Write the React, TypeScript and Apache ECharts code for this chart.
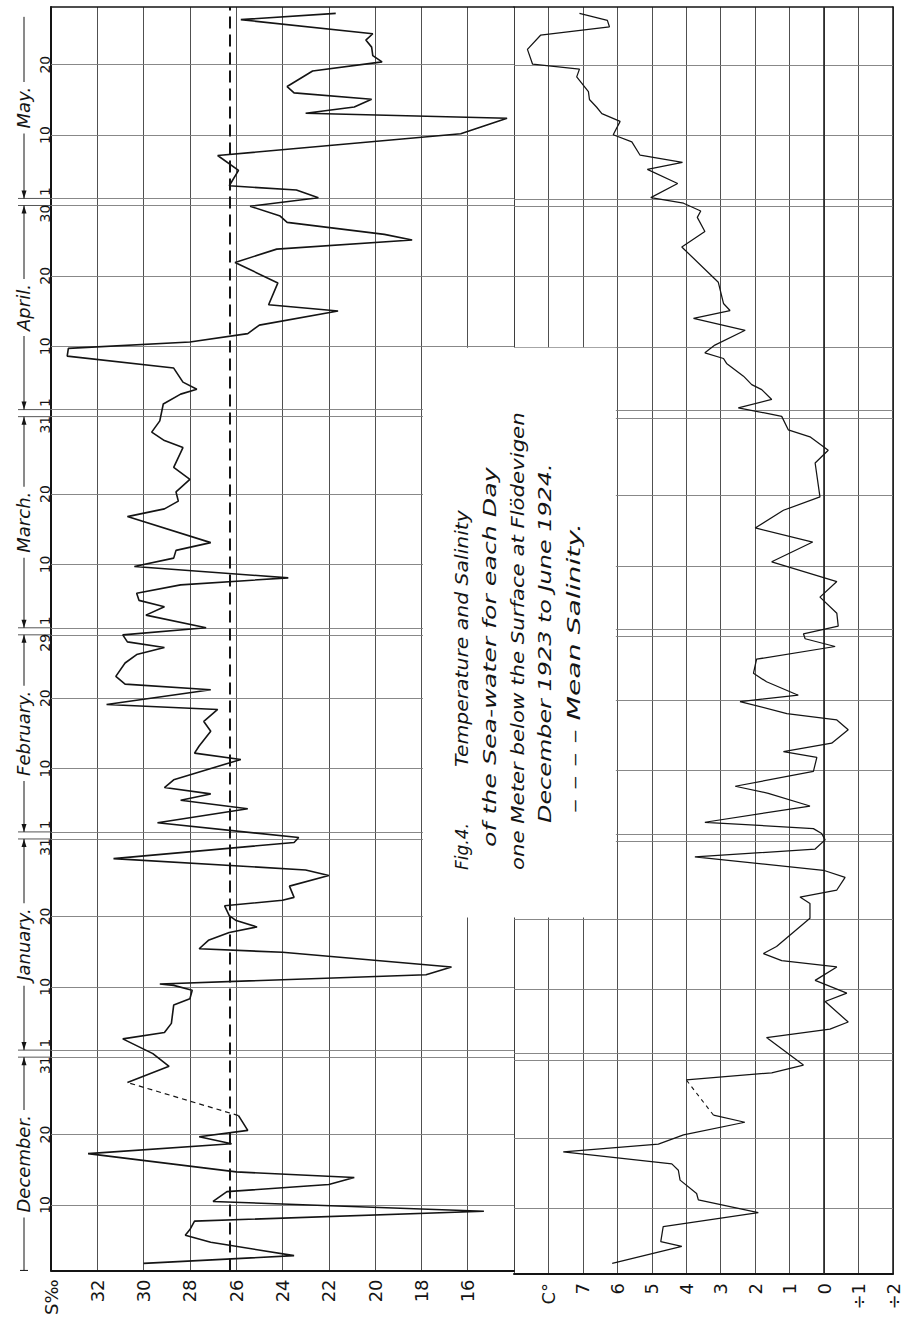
import React, { useEffect, useRef } from "react";
import * as echarts from "echarts";

// Day index: 1 = 1 Dec 1923, 32 = 1 Jan, 63 = 1 Feb, 92 = 1 Mar, 123 = 1 Apr, 153 = 1 May 1924
const salDays = [
  1.7, 2.8, 4.7, 5.7, 6.5, 7.7, 9.1, 10.5, 11.9, 12.9, 13.9, 14.7, 17.3, 18.7, 19.7, 20.6, 22.7,
  27.4, 29.7, 31.5, 33.6, 34.5, 35.8, 38.4, 39.3, 40.5, 41.2, 41.4, 42.7, 43.8, 45.9, 46.4, 47.6,
  48.7, 49.5, 50.4, 51.1, 52.5, 53.3, 53.7, 55.3, 56.8, 57.6, 59.2, 61.5, 62.2, 64.3, 66.3, 67.5,
  68.4, 69.3, 70.4, 73.3, 74.2, 75.2, 77.3, 78.7, 80.4, 81.1, 83.2, 84.0, 85.1, 87.0, 88.2, 89.2,
  90.0, 91.0, 92.0, 93.8, 95.0, 95.9, 96.9, 98.1, 99.1, 100.7, 101.9, 103.0, 104.1, 107.8, 108.9,
  110.0, 111.3, 113.1, 114.8, 117.6, 118.6, 119.8, 121.4, 123.8, 125.2, 125.9, 126.9, 128.9, 130.6,
  131.7, 132.6, 133.8, 135.0, 137.0, 137.9, 141.0, 143.9, 145.8, 147.1, 147.9, 149.6, 150.5, 151.9,
  153.1, 154.2, 154.8, 157.0, 159.1, 162.2, 164.4, 165.1, 166.0, 167.1, 168.0, 168.9, 171.1, 172.4,
  173.3, 174.5, 175.5, 176.4, 178.4, 179.3,
];
const salVals = [
  30.0, 23.5, 27.1, 28.2, 28.0, 27.8, 15.3, 27.0, 26.4, 22.0, 20.9, 26.0, 32.4, 26.2, 27.6, 25.5, 25.9,
  30.7, 28.9, 29.6, 30.9, 29.1, 28.8, 28.7, 28.0, 27.9, 28.7, 29.3, 17.8, 16.7, 24.0, 27.6, 27.2,
  26.3, 25.1, 26.0, 26.3, 26.5, 24.0, 23.5, 23.7, 22.0, 23.0, 31.3, 23.5, 23.3, 29.4, 25.5, 28.4,
  27.1, 29.1, 28.7, 25.8, 27.8, 27.6, 27.1, 27.4, 26.8, 31.6, 27.1, 30.8, 31.2, 30.8, 30.3, 29.1,
  30.7, 30.9, 27.3, 29.9, 29.1, 30.2, 30.3, 28.4, 23.75, 30.4, 28.7, 28.6, 27.1, 30.7, 29.1,
  28.5, 28.6, 28.0, 28.7, 28.3, 29.1, 29.65, 29.3, 29.15, 28.4, 27.7, 28.3, 28.7, 33.3,
  33.25, 28.0, 25.5, 25.0, 21.6, 24.6, 24.2, 26.05, 24.25, 18.4, 19.6, 23.8, 24.1, 25.4,
  22.45, 23.4, 26.3, 25.9, 26.8, 16.3, 14.3, 23.0, 20.9, 20.15, 23.5, 23.8, 22.7, 19.7,
  20.1, 20.15, 20.4, 20.1, 25.8, 21.7,
];
const salGapAfter = 16; // days without observations follow this point (drawn dashed)

const tempDays = [
  2.2, 4.6, 5.3, 7.4, 9.4, 11.2, 12.1, 14.0, 15.4, 16.3, 18.0, 19.1, 20.4, 22.2, 23.2,
  28.2, 29.2, 30.3, 34.2, 35.4, 36.4, 39.3, 40.5, 42.3, 44.2, 45.1, 46.1, 47.1, 51.1, 53.2, 54.1,
  55.1, 56.9, 57.9, 59.8, 60.9, 62.2, 63.1, 63.8, 64.7, 67.0, 68.8, 69.8, 71.9, 73.9, 74.7, 75.9,
  77.8, 79.2, 80.1, 81.8, 82.7, 84.6, 85.8, 87.8, 89.6, 90.7, 91.4, 92.5, 94.3, 96.6, 98.8, 101.6,
  104.4, 106.4, 108.9, 110.8, 115.6, 117.4, 119.3, 120.3, 122.2, 122.6, 123.4, 124.6, 126.0, 126.7,
  127.9, 129.7, 130.4, 131.2, 132.3, 134.4, 136.1, 137.2, 138.2, 141.2, 146.2, 148.4, 150.4, 151.3,
  152.4, 153.2, 155.2, 157.2, 158.2, 159.2, 161.1, 162.1, 164.0, 165.1, 166.0, 167.1, 168.2, 170.3,
  171.4, 172.1, 174.2, 176.2, 177.4, 178.3, 179.3,
];
const tempVals = [
  6.15, 4.13, 4.74, 4.67, 1.91, 3.65, 3.7, 4.18, 4.23, 4.42, 7.57, 4.81, 4.08, 2.3, 3.21,
  4.0, 1.52, 0.6, 1.67, -0.17, -0.7, -0.03, -0.66, 0.26, -0.37, 1.23, 1.76, 1.38, 0.41, 0.41, 0.7,
  -0.37, -0.61, 0.02, 3.75, 0.26, -0.03, 0.07, 0.31, 3.46, 0.41, 1.62, 2.58, 0.31, 0.21, 1.18, -0.22,
  -0.7, -0.37, 1.08, 2.44, 0.75, 1.67, 2.05, 1.96, -0.32, 0.55, 0.6, -0.41, -0.37, 0.12, -0.37, 1.52,
  0.33, 2.0, 1.18, 0.12, 0.26, -0.12, 0.41, 1.04, 1.23, 1.62, 2.49, 1.52, 1.81, 2.1,
  2.34, 2.83, 2.92, 3.46, 3.17, 2.29, 3.79, 2.73, 2.92, 3.07, 4.13, 3.46, 3.68, 3.58,
  4.08, 5.03, 4.25, 5.13, 4.11, 5.34, 5.58, 6.12, 5.92, 6.45, 6.6, 6.81, 6.84, 7.18,
  7.1, 8.46, 8.61, 8.23, 6.23, 6.29, 7.1,
];
const tempGapAfter = 14;

const meanSalinity = 26.3;

const dayTickDays = [10, 20, 31, 32, 41, 51, 62, 63, 72, 82, 91, 92, 101, 111, 122, 123, 132, 142, 152, 153, 162, 172];
const dayTickLabels = ["10", "20", "31", "1", "10", "20", "31", "1", "10", "20", "29", "1", "10", "20", "31", "1", "10", "20", "30", "1", "10", "20"];

const monthNames = ["December.", "January.", "February.", "March.", "April.", "May."];
const monthFirstDay = [1, 32, 63, 92, 123, 153];
const monthLastDay = [31, 62, 91, 122, 152, 183];

const DAY_MIN = 0.7;
const DAY_MAX = 180.2;

const titleLines = [
  { text: "Fig.4.", x: 462, y: 870, len: 47 },
  { text: "Temperature and Salinity", x: 462, y: 767, len: 257 },
  { text: "of the Sea-water for each Day", x: 490, y: 847, len: 380 },
  { text: "one Meter below the Surface at Flödevigen", x: 518, y: 870, len: 458 },
  { text: "December 1923 to June 1924.", x: 545, y: 823, len: 360 },
  { text: "– – – – Mean Salinity.", x: 574, y: 813, len: 290 },
];

const INK = "#141414";
const FONT = '"DejaVu Sans", "Liberation Sans", sans-serif';

function pairs(days: number[], vals: number[]) {
  return days.map((d, i) => [vals[i], d]);
}

function measure(text: string, font: string) {
  const c = document.createElement("canvas").getContext("2d");
  if (!c) return text.length * 9;
  c.font = font;
  return c.measureText(text).width;
}

function salLabel(v: number) {
  if (v === 34) return "S‰";
  if (v === 14) return "";
  return String(v);
}
function tempLabel(v: number) {
  if (v === 9) return "";
  if (v === 8) return "C°";
  if (v < 0) return "÷" + String(-v);
  return String(v);
}

function buildOption() {
  const sal = pairs(salDays, salVals);
  const tmp = pairs(tempDays, tempVals);
  const hLines = dayTickDays.map((d) => ({ yAxis: d }));
  const hLineStyle = { color: "#7a7a7a", width: 0.9, type: "solid" as const };

  const baseX = {
    type: "value" as const,
    inverse: true,
    axisTick: { show: false },
  };
  const baseY = {
    type: "value" as const,
    min: DAY_MIN,
    max: DAY_MAX,
    axisTick: { show: false },
    axisLabel: { show: false },
    splitLine: { show: false },
  };

  return {
    animation: false,
    backgroundColor: "#ffffff",
    grid: [
      { left: 51, top: 7, width: 463, height: 1267 },
      { left: 514, top: 7, width: 379, height: 1267 },
    ],
    xAxis: [
      {
        ...baseX,
        gridIndex: 0,
        min: 14,
        max: 34,
        interval: 2,
        position: "bottom",
        axisLine: { show: true, onZero: false, lineStyle: { color: INK, width: 2 } },
        axisLabel: {
          rotate: 90,
          margin: 9,
          fontSize: 18,
          fontFamily: FONT,
          color: INK,
          showMinLabel: true,
          showMaxLabel: true,
          formatter: salLabel,
        },
        splitLine: { show: true, lineStyle: { color: "#3c3c3c", width: 0.9 } },
      },
      {
        ...baseX,
        gridIndex: 1,
        min: -2,
        max: 9,
        interval: 1,
        position: "bottom",
        axisLine: { show: true, onZero: false, lineStyle: { color: INK, width: 2 } },
        axisLabel: {
          rotate: 90,
          margin: 9,
          fontSize: 18,
          fontFamily: FONT,
          color: INK,
          showMinLabel: true,
          showMaxLabel: true,
          formatter: tempLabel,
        },
        splitLine: { show: true, lineStyle: { color: "#3c3c3c", width: 0.9 } },
      },
      {
        ...baseX,
        gridIndex: 0,
        min: 14,
        max: 34,
        interval: 2,
        position: "top",
        axisLine: { show: true, onZero: false, lineStyle: { color: INK, width: 1.5 } },
        axisLabel: { show: false },
        splitLine: { show: false },
      },
      {
        ...baseX,
        gridIndex: 1,
        min: -2,
        max: 9,
        interval: 1,
        position: "top",
        axisLine: { show: true, onZero: false, lineStyle: { color: INK, width: 1.5 } },
        axisLabel: { show: false },
        splitLine: { show: false },
      },
    ],
    yAxis: [
      { ...baseY, gridIndex: 0, position: "left", axisLine: { show: true, onZero: false, lineStyle: { color: INK, width: 2 } } },
      { ...baseY, gridIndex: 1, position: "right", axisLine: { show: true, onZero: false, lineStyle: { color: INK, width: 1.5 } } },
    ],
    series: [
      {
        name: "Salinity",
        type: "line",
        xAxisIndex: 0,
        yAxisIndex: 0,
        data: sal.slice(0, salGapAfter + 1),
        showSymbol: false,
        symbol: "none",
        lineStyle: { color: INK, width: 1.6 },
        z: 5,
        markLine: {
          silent: true,
          symbol: ["none", "none"],
          label: { show: false },
          lineStyle: hLineStyle,
          data: [
            ...hLines,
            { xAxis: meanSalinity, lineStyle: { color: INK, width: 2, type: [12, 6] } },
          ],
        },
      },
      {
        name: "Salinity (no observations)",
        type: "line",
        xAxisIndex: 0,
        yAxisIndex: 0,
        data: sal.slice(salGapAfter, salGapAfter + 2),
        showSymbol: false,
        symbol: "none",
        lineStyle: { color: INK, width: 1.2, type: [5, 4] },
        z: 5,
      },
      {
        name: "Salinity ",
        type: "line",
        xAxisIndex: 0,
        yAxisIndex: 0,
        data: sal.slice(salGapAfter + 1),
        showSymbol: false,
        symbol: "none",
        lineStyle: { color: INK, width: 1.6 },
        z: 5,
      },
      {
        name: "Temperature",
        type: "line",
        xAxisIndex: 1,
        yAxisIndex: 1,
        data: tmp.slice(0, tempGapAfter + 1),
        showSymbol: false,
        symbol: "none",
        lineStyle: { color: INK, width: 1.25 },
        z: 5,
        markLine: {
          silent: true,
          symbol: ["none", "none"],
          label: { show: false },
          lineStyle: hLineStyle,
          data: [...hLines, { xAxis: 0, lineStyle: { color: "#222", width: 1.6, type: "solid" } }],
        },
      },
      {
        name: "Temperature (no observations)",
        type: "line",
        xAxisIndex: 1,
        yAxisIndex: 1,
        data: tmp.slice(tempGapAfter, tempGapAfter + 2),
        showSymbol: false,
        symbol: "none",
        lineStyle: { color: INK, width: 1.1, type: [4, 4] },
        z: 5,
      },
      {
        name: "Temperature ",
        type: "line",
        xAxisIndex: 1,
        yAxisIndex: 1,
        data: tmp.slice(tempGapAfter + 1),
        showSymbol: false,
        symbol: "none",
        lineStyle: { color: INK, width: 1.25 },
        z: 5,
      },
      {
        name: "day labels",
        type: "custom",
        xAxisIndex: 0,
        yAxisIndex: 0,
        silent: true,
        z: 6,
        encode: { x: 0, y: 1 },
        data: dayTickDays.map((d, i) => [34, d, i]),
        renderItem: (_params: any, api: any) => {
          const i = api.value(2) as number;
          const label = dayTickLabels[i];
          const p = api.coord([34, dayTickDays[i]]);
          const x0 = p[0];
          const y = p[1];
          const isStart = label === "1";
          const isEnd = label === "31" || label === "30" || label === "29";
          const children: any[] = [];
          if (isStart || isEnd) {
            children.push({
              type: "line",
              shape: { x1: x0 - 33, y1: y, x2: x0, y2: y },
              style: { stroke: "#555", lineWidth: 1 },
            });
          }
          const off = isStart ? -7 : isEnd ? 8 : 0;
          children.push({
            type: "text",
            x: x0 - 6,
            y: y + off,
            rotation: Math.PI / 2,
            style: {
              text: label,
              font: `14px ${FONT}`,
              fill: INK,
              align: "center",
              verticalAlign: "middle",
              textAlign: "center",
              textVerticalAlign: "middle",
            },
          });
          return { type: "group", children };
        },
      },
      {
        name: "months",
        type: "custom",
        xAxisIndex: 0,
        yAxisIndex: 0,
        silent: true,
        z: 6,
        encode: { x: 0, y: 1 },
        data: monthNames.map((_m, i) => [34, monthFirstDay[i], i]),
        renderItem: (_params: any, api: any) => {
          const i = api.value(2) as number;
          const first = i === 0 ? DAY_MIN : monthFirstDay[i];
          const last = Math.min(monthLastDay[i], 178.8);
          const pb = api.coord([34, first]);
          const pt = api.coord([34, last]);
          const x = pb[0] - 27;
          const yBot = pb[1];
          const yTop = pt[1];
          const mid = (yTop + yBot) / 2;
          const children: any[] = [
            { type: "line", shape: { x1: x, y1: yTop, x2: x, y2: yBot }, style: { stroke: INK, lineWidth: 1 } },
          ];
          if (i > 0) {
            children.push({
              type: "polygon",
              shape: { points: [[x, yBot], [x - 2.5, yBot - 8], [x + 2.5, yBot - 8]] },
              style: { fill: INK },
            });
          } else {
            children.push({ type: "line", shape: { x1: x - 4, y1: yBot, x2: x + 4, y2: yBot }, style: { stroke: INK, lineWidth: 1 } });
          }
          if (i < monthNames.length - 1) {
            children.push({
              type: "polygon",
              shape: { points: [[x, yTop], [x - 2.5, yTop + 8], [x + 2.5, yTop + 8]] },
              style: { fill: INK },
            });
          }
          children.push({
            type: "text",
            x: x - 1,
            y: mid,
            rotation: Math.PI / 2,
            style: {
              text: monthNames[i],
              font: `italic 18px ${FONT}`,
              fill: INK,
              align: "center",
              verticalAlign: "middle",
              textAlign: "center",
              textVerticalAlign: "middle",
              backgroundColor: "#ffffff",
              padding: [1, 5],
            },
          });
          return { type: "group", children };
        },
      },
    ],
  };
}

function buildGraphic(a: number[], b: number[]) {
  const els: any[] = [
    {
      type: "rect",
      z: 100,
      silent: true,
      shape: { x: a[0] + 1.5, y: a[1] + 1.5, width: b[0] - a[0] - 3, height: b[1] - a[1] - 3 },
      style: { fill: "#ffffff" },
    },
  ];
  const font = `italic 17px ${FONT}`;
  titleLines.forEach((t) => {
    const w = measure(t.text, font);
    els.push({
      type: "text",
      z: 101,
      silent: true,
      x: t.x,
      y: t.y,
      rotation: Math.PI / 2,
      scaleX: w > 0 ? t.len / w : 1,
      style: {
        text: t.text,
        font,
        fill: INK,
        align: "left",
        verticalAlign: "middle",
        textAlign: "left",
        textVerticalAlign: "middle",
      },
    });
  });
  return els;
}

export default function App() {
  const ref = useRef<HTMLDivElement>(null);
  useEffect(() => {
    const el = ref.current;
    if (!el) return;
    const chart = echarts.init(el, null, { renderer: "svg" });
    chart.setOption(buildOption() as any);
    const a = chart.convertToPixel({ seriesIndex: 0 }, [18, 132]) as number[];
    const b = chart.convertToPixel({ seriesIndex: 3 }, [6, 51]) as number[];
    chart.setOption({ graphic: buildGraphic(a, b) } as any);
    return () => chart.dispose();
  }, []);
  return (
    <div
      ref={ref}
      style={{ position: "fixed", left: 0, top: 0, width: 913, height: 1318, background: "#ffffff" }}
    />
  );
}
